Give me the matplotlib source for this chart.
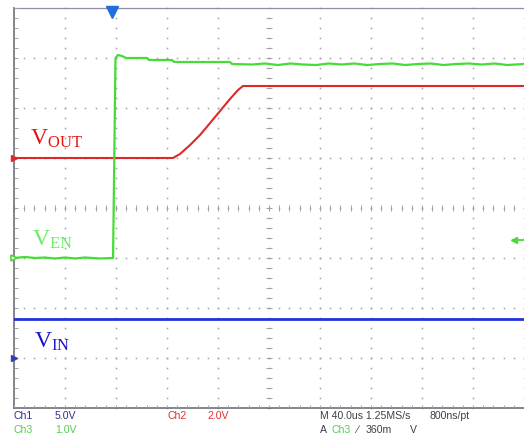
import numpy as np
import matplotlib
matplotlib.use('Agg')
import matplotlib.pyplot as plt

plt.rcParams['mathtext.fontset'] = 'custom'
plt.rcParams['mathtext.rm'] = 'Liberation Serif'

# scope settings
t_per_div = 40.0        # us/div
t_left = -76.9          # us at left edge of screen
ch1_scale, ch1_pos = 5.0, -3.0   # V/div, ground position (div)
ch2_scale, ch2_pos = 2.0, 1.0
ch3_scale, ch3_pos = 1.0, -1.0
trig_level = 0.36       # V on Ch3

# Ch1 - VIN (blue)
t_vin = [-76.9, 323.1]
v_vin = [3.9, 3.9]

# Ch2 - VOUT (red)
t_vout = [-76.9, 47.8, 53.3, 61.2, 69.0, 76.9, 84.7, 92.5, 98.8, 102.7, 323.1]
v_vout = [0.0, 0.0, 0.16, 0.52, 0.92, 1.4, 1.88, 2.36, 2.72, 2.88, 2.88]

# Ch3 - VEN (green)
t_ven = [-76.9, -68.3, -60.4, -52.5, -44.7, -36.9, -29.0, -21.2, -9.4, 0.0,
         0.8, 2.7, 4.7, 7.8, 11.0, 27.5, 29.0, 47.1, 48.6, 92.5, 94.1,
         110.0, 120.0, 130.0, 140.0, 150.0, 160.0, 170.0, 180.0, 190.0, 200.0,
         210.0, 220.0, 230.0, 240.0, 250.0, 260.0, 270.0, 280.0, 290.0, 300.0,
         310.0, 323.1]
v_ven = [0.0, 0.02, 0.0, 0.01, -0.01, 0.01, -0.01, 0.01, -0.01, 0.0,
         0.0, 4.0, 4.06, 4.04, 4.0, 4.0, 3.96, 3.96, 3.92, 3.92, 3.88,
         3.87, 3.89, 3.86, 3.89, 3.87, 3.86, 3.89, 3.87, 3.89, 3.86,
         3.88, 3.89, 3.86, 3.88, 3.89, 3.86, 3.88, 3.89, 3.87, 3.89,
         3.86, 3.88]

red = '#e02828'
green = '#44dd33'
blue = '#2233dd'
grat = '#a0a0a8'


def to_x(t):
    return (np.asarray(t) - t_left) / t_per_div


def to_y(v, scale, pos):
    return np.asarray(v) / scale + pos


fig = plt.figure(figsize=(5.24, 4.39), dpi=100)
ax = fig.add_axes([14 / 524, 30 / 439, 510 / 524, 400 / 439])
ax.set_xlim(0, 10)
ax.set_ylim(-4, 4)
ax.axis('off')

# graticule dots
fine_x = np.arange(0, 10.001, 0.2)
fine_y = np.arange(-4, 4.001, 0.2)
for gx in range(1, 11):
    ax.plot(np.full_like(fine_y, gx), fine_y, ls='none', marker='s', ms=1.1,
            mew=0, color=grat, clip_on=False)
for gy in range(-3, 4):
    ax.plot(fine_x, np.full_like(fine_x, gy), ls='none', marker='s', ms=1.1,
            mew=0, color=grat, clip_on=False)
# centre axes ticks
ax.plot(fine_x, np.zeros_like(fine_x), ls='none', marker='|', ms=5, mew=0.7, color=grat)
ax.plot(np.full_like(fine_y, 5), fine_y, ls='none', marker='_', ms=4, mew=0.7, color=grat)
# border
ax.plot([0, 0], [-4, 4], color='#70707a', lw=1.2, clip_on=False)
ax.plot([0, 10], [4, 4], color='#9090a0', lw=0.9, clip_on=False)
ax.plot([0, 10], [-4, -4], color='#70707a', lw=1.2, clip_on=False)
ax.vlines(fine_x, -4, -3.93, color=grat, lw=0.7)
ax.hlines(fine_y, 0, 0.07, color=grat, lw=0.7)

# traces
ax.plot(to_x(t_vin), to_y(v_vin, ch1_scale, ch1_pos), color=blue, lw=2.0)
ax.plot(to_x(t_vout), to_y(v_vout, ch2_scale, ch2_pos), color=red, lw=1.5)
ax.plot(to_x(t_ven), to_y(v_ven, ch3_scale, ch3_pos), color=green, lw=1.6)

# channel ground markers
ax.plot(0, ch2_pos, marker='>', ms=4, color=red, clip_on=False)
ax.plot(0, ch3_pos, marker='>', ms=5, mfc='white', mec=green, mew=1.2, clip_on=False)
ax.plot(0, ch1_pos, marker='>', ms=4, color='#3040b0', clip_on=False)

# trigger position / level markers
ax.plot(to_x(0.0), 3.93, marker='v', ms=8, color='#1f6fdc', clip_on=False)
ty = to_y(trig_level, ch3_scale, ch3_pos)
ax.plot([9.78, 10], [ty, ty], color=green, lw=1.3, clip_on=False)
ax.plot(9.8, ty, marker='<', ms=5, color=green, clip_on=False)

# trace labels
fig.text(30 / 524, 1 - 145 / 439, r'$\mathrm{V_{OUT}}$', color='#e81010', fontsize=17)
fig.text(32 / 524, 1 - 246 / 439, r'$\mathrm{V_{EN}}$', color='#66ee66', fontsize=17)
fig.text(34 / 524, 1 - 348 / 439, r'$\mathrm{V_{IN}}$', color='#1515cc', fontsize=17)

# status bar
fs = 7.6
y1, y2 = 1 - 416 / 439, 1 - 430 / 439
sb = dict(fontsize=fs, family='Liberation Sans', va='center')
fig.text(14 / 524, y1, 'Ch1', color='#303090', **sb)
fig.text(55 / 524, y1, '5.0V', color='#303090', **sb)
fig.text(14 / 524, y2, 'Ch3', color='#55cc55', **sb)
fig.text(55 / 524, y2, '1.0V', color='#55cc55', **sb)
fig.text(168 / 524, y1, 'Ch2', color='#e03030', **sb)
fig.text(208 / 524, y1, '2.0V', color='#e03030', **sb)
fig.text(320 / 524, y1, 'M 40.0us 1.25MS/s', color='#404048', **sb)
fig.text(430 / 524, y1, '800ns/pt', color='#404048', **sb)
fig.text(320 / 524, y2, 'A', color='#404048', **sb)
fig.text(332 / 524, y2, 'Ch3', color='#55cc55', **sb)
fig.text(356 / 524, y2, '\u2215', color='#404048', **sb)
fig.text(366 / 524, y2, '360m', color='#404048', **sb)
fig.text(410 / 524, y2, 'V', color='#404048', **sb)

fig.savefig('out.png', dpi=100)
